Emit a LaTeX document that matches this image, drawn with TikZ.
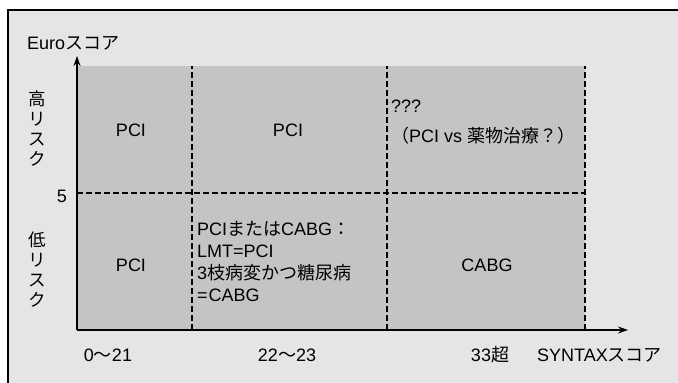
\documentclass[tikz,border=0pt]{standalone}
\usepackage{fontspec}
\setmainfont{Liberation Sans}
\newfontfamily\jp{Noto Sans CJK JP}
\usetikzlibrary{arrows.meta}
\definecolor{bglight}{gray}{0.9}
\definecolor{bgdark}{gray}{0.77}
\tikzset{
  lbl/.style={font=\fontsize{18}{22}\selectfont, inner sep=0pt},
  vlbl/.style={font=\fontsize{17.5}{20}\selectfont\jp, inner sep=0pt, align=center},
  divider/.style={dashed, line width=1.1pt, dash pattern=on 5.5pt off 3.5pt},
  axis/.style={line width=1.6pt, -{Stealth[length=10pt,width=7pt]}},
}
\begin{document}
\begin{tikzpicture}[x=1pt,y=1pt]
\useasboundingbox (0,0) rectangle (678,383);
% backgrounds
\fill[bglight] (8,0) rectangle (678,373);
\fill[bgdark] (77,53) rectangle (585,317);
\draw[line width=1.2pt] (8,0) -- (8,373) -- (678,373);
% grid coordinates
\coordinate (o) at (77,53);
\coordinate (ytop) at (77,327);
\coordinate (xend) at (628,53);
\coordinate (h1) at (77,190);
\coordinate (h2) at (585,190);
\coordinate (v1a) at (192,53);
\coordinate (v1b) at (192,317);
\coordinate (v2a) at (387,53);
\coordinate (v2b) at (387,317);
\coordinate (v3a) at (585,53);
\coordinate (v3b) at (585,317);
\draw[divider] (h1) -- (h2);
\draw[divider] (v1a) -- (v1b);
\draw[divider] (v2a) -- (v2b);
\draw[divider] (v3a) -- (v3b);
\draw[axis] (o) -- (ytop);
\draw[axis] (o) -- (xend);
% axis labels
\node[lbl, anchor=west] (euro) at (27,340) {Euro{\jp スコア}};
\node[vlbl] (hi) at (37,254) {高\\リ\\ス\\ク};
\node[vlbl] (lo) at (37,113) {低\\リ\\ス\\ク};
\node[lbl] (five) at (62,187) {5};
\node[lbl] (t1) at (108,28) {0{\jp ～}21};
\node[lbl] (t2) at (287,28) {22{\jp ～}23};
\node[lbl] (t3) at (490,28) {33{\jp 超}};
\node[lbl, anchor=west] (syn) at (537,28) {SYNTAX{\jp スコア}};
% cells
\node[lbl] (c11) at (131,253) {PCI};
\node[lbl] (c12) at (288,253) {PCI};
\node[lbl, anchor=north west, align=left, font=\fontsize{18}{30}\selectfont] (c13) at (391,283) {???\\{\jp （}PCI vs {\jp 薬物治療？）}};
\node[lbl] (c21) at (131,118) {PCI};
\node[lbl, anchor=north west, align=left] (c22) at (197,162) {PCI{\jp または}CABG{\jp ：}\\LMT=PCI\\3{\jp 枝病変かつ糖尿病}\\={\kern1pt}CABG};
\node[lbl] (c23) at (487,118) {CABG};
\end{tikzpicture}
\end{document}
